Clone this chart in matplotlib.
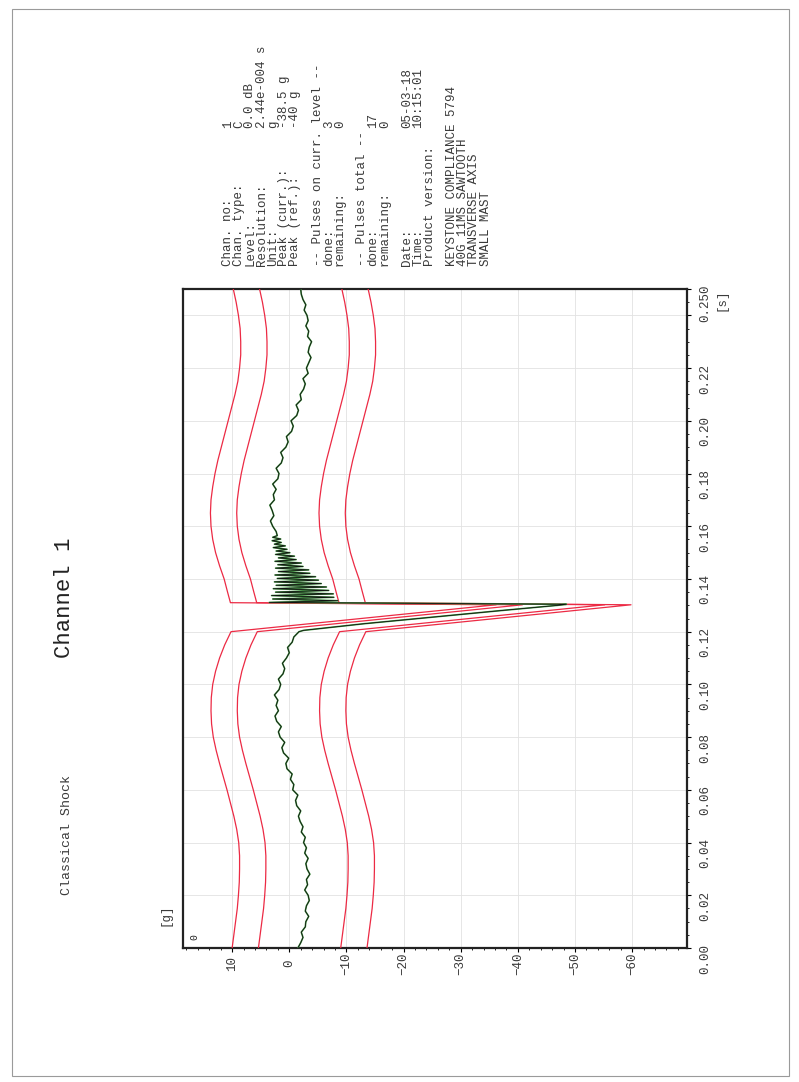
import numpy as np
import matplotlib
matplotlib.use('Agg')
import matplotlib.pyplot as plt
from matplotlib.ticker import MultipleLocator, FixedLocator, FixedFormatter
from matplotlib.patches import Rectangle

# reference pulse (compensated sawtooth), g vs time [s]
ref_pre_t = [0.000, 0.005, 0.010, 0.015, 0.020, 0.025, 0.030, 0.035, 0.040, 0.045, 0.050, 0.055, 0.060,
             0.065, 0.070, 0.075, 0.080, 0.085, 0.090, 0.095, 0.100, 0.105, 0.110, 0.115, 0.120]
ref_pre_g = [-1.8, -2.1, -2.4, -2.7, -2.9, -3.05, -3.1, -3.1, -2.95, -2.6, -2.1, -1.5, -0.9,
             -0.25, 0.4, 1.0, 1.5, 1.8, 1.9, 1.85, 1.6, 1.1, 0.4, -0.5, -1.6]
ref_peak_t = 0.1302
ref_peak_g = -48.0
ref_post_t = [0.131, 0.135, 0.140, 0.145, 0.150, 0.155, 0.160, 0.165, 0.170, 0.175, 0.180, 0.185, 0.190,
              0.195, 0.200, 0.205, 0.210, 0.215, 0.220, 0.225, 0.230, 0.235, 0.240, 0.245, 0.250]
ref_post_g = [-1.5, -1.0, -0.4, 0.4, 1.1, 1.6, 1.9, 2.0, 1.9, 1.6, 1.2, 0.7, 0.1,
              -0.5, -1.1, -1.7, -2.3, -2.8, -3.1, -3.3, -3.3, -3.2, -2.9, -2.5, -2.0]
tol_offsets = [11.8, 7.2, -7.2, -11.8]   # outer / inner tolerance bands

# measured signal
sig_pre_t = np.arange(0, 0.1201, 0.002)
sig_pre_g = [-1.5, -2.0, -2.4, -2.1, -2.8, -2.9, -3.4, -2.8, -3.0, -3.5, -3.3, -2.7, -3.2, -3.0, -3.6,
             -3.1, -2.9, -3.3, -2.7, -3.0, -2.5, -2.8, -2.1, -2.4, -1.9, -1.6, -2.0, -1.3, -1.1, -1.5,
             -0.6, -0.8, -0.2, -0.5, 0.4, 0.6, 0.1, 1.0, 1.3, 0.8, 1.6, 1.9, 1.4, 2.2, 2.5, 1.9,
             2.3, 2.0, 2.6, 1.8, 1.5, 1.9, 1.1, 0.8, 1.2, 0.5, 0.0, 0.3, -0.5, -0.8, -1.7]
sig_pulse_t = [0.1205, 0.1230, 0.1255, 0.1280, 0.1300, 0.1304, 0.1308]
sig_pulse_g = [-2.5, -13.0, -25.0, -37.0, -47.0, -48.5, -20.0]
ring_t = np.arange(0.1311, 0.1568, 0.00065)
ring_g = [3.5, -8.5, 2.9, -7.8, 3.1, -7.7, 2.4, -6.9, 2.8, -6.5, 2.3, -5.6, 2.6, -5.1, 2.1, -4.6,
          2.5, -3.6, 1.9, -3.4, 2.4, -2.4, 2.0, -2.1, 2.5, -1.2, 1.9, -0.9, 2.4, -0.1, 2.3, 0.4,
          2.8, 0.7, 2.6, 1.4, 3.0, 1.5, 2.9, 2.1]
sig_post_t = np.arange(0.158, 0.2501, 0.002)
sig_post_g = [2.3, 2.9, 3.3, 2.7, 3.0, 3.4, 2.6, 2.8, 2.3, 2.9, 2.0, 1.8, 2.3, 1.4, 1.1, 1.5, 0.6, 0.2,
              0.5, -0.4, -0.7, -0.3, -1.3, -1.6, -1.2, -2.1, -1.9, -2.5, -2.8, -2.4, -3.3, -3.0, -3.4,
              -3.8, -3.3, -3.5, -3.9, -3.2, -3.4, -2.9, -3.3, -3.1, -2.6, -2.9, -2.4, -2.1, -2.0]

g_ticks = [10, 0, -10, -20, -30, -40, -50, -60]
t_ticks = [0.00, 0.02, 0.04, 0.06, 0.08, 0.10, 0.12, 0.14, 0.16, 0.18, 0.20, 0.22, 0.24, 0.25]
t_labels = ['0.00', '0.02', '0.04', '0.06', '0.08', '0.10', '0.12', '0.14', '0.16', '0.18',
            '0.20', '0.22', '', '0.250']

info_labels = ['Chan. no:', 'Chan. type:', 'Level:', 'Resolution:', 'Unit:', 'Peak (curr.):',
               'Peak (ref.):', '', '-- Pulses on curr. level --', 'done:', 'remaining:', '',
               '-- Pulses total --', 'done:', 'remaining:', '', 'Date:', 'Time:',
               'Product version:', '', 'KEYSTONE COMPLIANCE 5794', '40G 11MS SAWTOOTH',
               'TRANSVERSE AXIS', 'SMALL MAST']
info_values = ['1', 'C', '0.0 dB', '2.44e-004 s', 'g', '-38.5 g', '-40 g', '', '', '3', '0', '',
               '', '17', '0', '', '05-03-18', '10:15:01', '', '', '', '', '', '']

mono = 'Liberation Mono'
txt_col = '#3a3a3a'
red = '#ec2a44'

W, H = 799, 1082
fig = plt.figure(figsize=(W / 100, H / 100), dpi=100)
ax = fig.add_axes([183 / W, 1 - 948 / H, (687 - 183) / W, (948 - 289) / H])

# the page is printed landscape and scanned rotated: g runs horizontally (reversed), time vertically
ref_t = ref_pre_t + [ref_peak_t] + ref_post_t
ref_g = np.array(ref_pre_g + [ref_peak_g] + ref_post_g)
for off in tol_offsets:
    ax.plot(ref_g + off, ref_t, color=red, lw=0.9, zorder=3)

sig_t = np.concatenate([sig_pre_t, sig_pulse_t, ring_t, sig_post_t])
sig_g = np.concatenate([sig_pre_g, sig_pulse_g, ring_g, sig_post_g])
ax.plot(sig_g, sig_t, color='#4aa04a', lw=1.2, zorder=4)
ax.plot(sig_g, sig_t, color='#111111', lw=0.6, zorder=5)

ax.set_xlim(18.6, -69.6)
ax.set_ylim(0, 0.25)

ax.xaxis.set_major_locator(FixedLocator(g_ticks))
ax.xaxis.set_minor_locator(MultipleLocator(2))
ax.yaxis.tick_right()
ax.yaxis.set_major_locator(FixedLocator(t_ticks))
ax.yaxis.set_major_formatter(FixedFormatter(t_labels))
ax.yaxis.set_minor_locator(MultipleLocator(0.005))
ax.tick_params(axis='x', which='major', direction='out', length=3, width=0.8, pad=8,
               labelsize=9, labelcolor=txt_col, labelrotation=90)
ax.tick_params(axis='y', which='major', direction='out', length=3, width=0.8, pad=10,
               labelsize=9, labelcolor=txt_col, labelrotation=90)
ax.tick_params(which='minor', direction='out', length=1.5, width=0.6)
for lab in ax.get_xticklabels():
    lab.set_family(mono)
    lab.set_va('center')
for lab in ax.get_yticklabels():
    lab.set_family(mono)
    lab.set_ha('center')

ax.grid(True, color='#e2e2e2', lw=0.6, zorder=0)
for sp in ax.spines.values():
    sp.set_linewidth(1.6)
    sp.set_color('#222222')

ax.text(0.012, 0.012, '0', transform=ax.transAxes, rotation=90, fontsize=7, family=mono,
        ha='left', va='bottom', color='#222222')

# unit labels and titles
fig.text(165 / W, 1 - 915 / H, '[g]', rotation=90, fontsize=9, family=mono, color=txt_col,
         ha='center', va='center')
fig.text(722 / W, 1 - 300 / H, '[s]', rotation=90, fontsize=9, family=mono, color=txt_col,
         ha='center', va='center')
fig.text(67 / W, 1 - 895 / H, 'Classical Shock', rotation=90, fontsize=9.5, family=mono,
         color=txt_col, ha='center', va='bottom')
fig.text(65 / W, 1 - 598 / H, 'Channel 1', rotation=90, fontsize=16, family=mono,
         color='#222222', ha='center', va='center')

# info block above the plot: one column of text per line, labels then values
for i, (lab, val) in enumerate(zip(info_labels, info_values)):
    x = (228 + i * 11.2) / W
    if lab:
        fig.text(x, 1 - 266 / H, lab, rotation=90, fontsize=9, family=mono, color=txt_col,
                 ha='center', va='bottom')
    if val:
        fig.text(x, 1 - 128 / H, val, rotation=90, fontsize=9, family=mono, color=txt_col,
                 ha='center', va='bottom')

fig.patches.append(Rectangle((12 / W, 1 - 1076 / H), (789 - 12) / W, (1076 - 9) / H,
                             transform=fig.transFigure, fill=False, edgecolor='#9a9a9a', lw=0.8))

fig.savefig('out.png', dpi=100)
